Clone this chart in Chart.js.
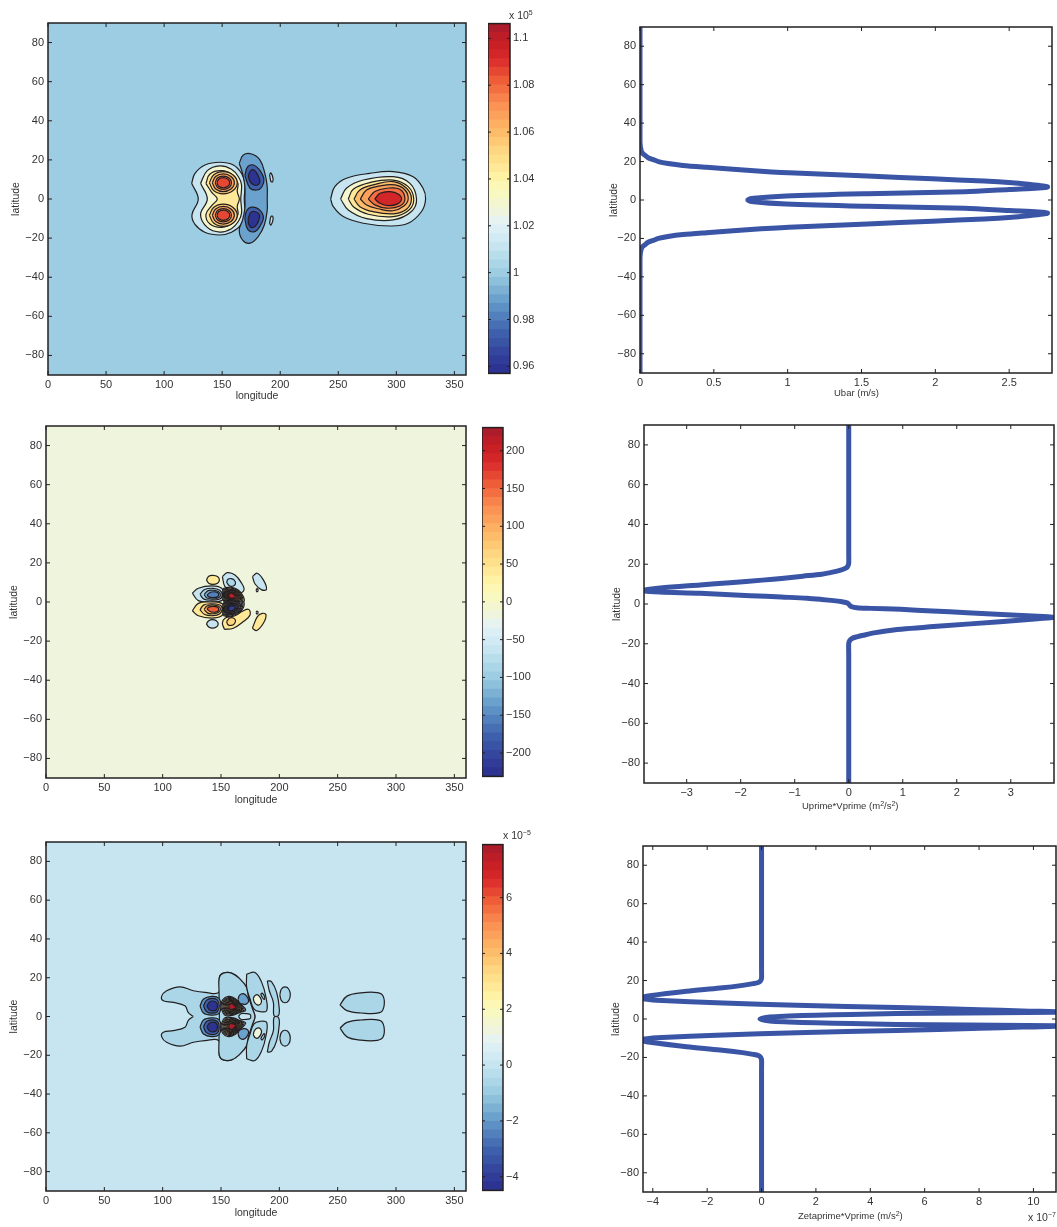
<!DOCTYPE html>
<html>
<head>
<meta charset="utf-8">
<script src="https://cdn.jsdelivr.net/npm/chart.js@4"></script>
<style>
  html, body { margin: 0; background: #fff; width: 1057px; height: 1227px; overflow: hidden; }
  canvas { position: absolute; }
  .mult, .xtitle { position: absolute; font: 10.5px "Liberation Sans", sans-serif; color: #333; white-space: nowrap; will-change: transform; }
  .xtitle { font-size: 9.5px; }
  .mult sup { font-size: 7px; vertical-align: 4px; line-height: 0; }
  .xtitle sup { font-size: 7px; vertical-align: 3px; line-height: 0; }
</style>
</head>
<body>
<div class="mult" style="left:509px;top:9px">x 10<sup>5</sup></div>
<div class="mult" style="left:503px;top:829px">x 10<sup>&minus;5</sup></div>
<div class="mult" style="left:1028px;top:1211px">x 10<sup>&minus;7</sup></div>
<div class="xtitle" style="left:834px;top:387px">Ubar (m/s)</div>
<div class="xtitle" style="left:802px;top:800px">Uprime*Vprime (m<sup>2</sup>/s<sup>2</sup>)</div>
<div class="xtitle" style="left:798px;top:1210px">Zetaprime*Vprime (m/s<sup>2</sup>)</div>
<script>
// contours are closed [lon, lat] outlines, painted in list order
const lonTicksStep = 50;
const latTicks = [-80, -60, -40, -20, 0, 20, 40, 60, 80];

// --- top map (pressure, x 10^5)
const map1Levels = [
  1.012, 1.028, 1.046, 1.056, 1.066, 1.074, 1.085, 1.056, 1.066, 1.074, 1.085,
  0.987, 0.972, 0.960, 0.972, 0.960, 1.012, 1.012,
  1.012, 1.028, 1.046, 1.058, 1.068, 1.080, 1.095
];
const map1Contours = [
  [[123.7,8],[126.6,13.1],[135.2,17.4],[148.1,18.8],[159.6,17.4],[166.7,13.1],[169.6,8],[169,0],[169.6,-8],[166.7,-13],[158,-17],[148,-18.4],[135,-17],[126.6,-13],[124,-8],[129.4,0]],
  [[131.4,8],[137.2,14.5],[148,16.9],[158,15.2],[164,11.4],[166.7,7.2],[166,0],[166.7,-7.2],[164,-11.4],[158,-15.2],[148,-16.9],[137.2,-14.5],[131.4,-8],[137.2,0]],
  [[136,8],[139.5,12.8],[149.5,14.5],[159,12.3],[163.6,8],[163,3.8],[164.8,0],[163,-3.8],[163.6,-8],[159,-12.3],[149.5,-14.5],[139.5,-12.8],[136,-8],[141,-3.4],[145.8,0],[141,3.4]],
  [[139,8.3],[142.6,12.3],[151,14],[159.4,12.3],[163,8.3],[159.4,4.3],[151,2.6],[142.6,4.3]],
  [[141.5,8.3],[144.4,11.5],[151,12.8],[157.6,11.5],[160.5,8.3],[157.6,5.1],[151,3.8],[144.4,5.1]],
  [[144,8.3],[146,10.7],[151,11.7],[156,10.7],[158,8.3],[156,5.9],[151,4.9],[146,5.9]],
  [[145.5,8.3],[147,10.1],[151,10.9],[155,10.1],[156.5,8.3],[155,6.5],[151,5.7],[147,6.5]],
  [[139,-8.3],[142.6,-4.3],[151,-2.6],[159.4,-4.3],[163,-8.3],[159.4,-12.3],[151,-14],[142.6,-12.3]],
  [[141.5,-8.3],[144.4,-5.1],[151,-3.8],[157.6,-5.1],[160.5,-8.3],[157.6,-11.5],[151,-12.8],[144.4,-11.5]],
  [[144,-8.3],[146,-5.9],[151,-4.9],[156,-5.9],[158,-8.3],[156,-10.7],[151,-11.7],[146,-10.7]],
  [[145.5,-8.3],[147,-6.5],[151,-5.7],[155,-6.5],[156.5,-8.3],[155,-10.1],[151,-10.9],[147,-10.1]],
  [[164.7,18.3],[168.2,22.5],[175.4,23],[182.5,20],[186.8,13.1],[188.8,6.3],[188.8,0],[188.8,-5.6],[186.3,-13.3],[181,-19.2],[174,-22.6],[167.6,-21],[164.7,-15.8],[167.6,-10.7],[169.6,-4.7],[169.6,0],[169.6,6.3],[167.6,13]],
  [[169.5,12],[172,16.5],[177,17.4],[182,15],[186,10],[184,6],[180,4.6],[174,5.5]],
  [[172.5,12],[174.5,14.5],[177.5,14.8],[180.5,12.5],[182.5,9],[180.5,7.2],[177,7.3],[174,9]],
  [[169.5,-10],[171,-6],[175,-4.2],[181,-5],[185.5,-9],[183,-13.5],[178,-16.7],[172,-15.5]],
  [[172.5,-10],[174.5,-7],[178,-6.4],[182,-8],[181.5,-11],[178.5,-14],[175,-14.5],[172.8,-12.8]],
  [[190.8,12.5],[192,13.3],[193.8,10.5],[193.4,8.8],[192,9]],
  [[190.8,-12.5],[192,-13.3],[193.8,-10.5],[193.4,-8.8],[192,-9]],
  [[243.4,0],[247,6.3],[257,10.6],[277.2,13.1],[297.3,14],[314.5,11.4],[323,5.5],[325.2,0],[321.7,-6.4],[310.2,-12.4],[294.5,-13.8],[271.5,-12.4],[254.3,-9],[245.7,-3.9]],
  [[252,0],[257,5.5],[271.5,9.7],[297.3,11.4],[311.7,8],[317.4,0],[313,-6.4],[297.3,-10.7],[274.4,-10],[258.6,-5.6]],
  [[258.6,0],[262.9,5],[277.2,8.4],[297.3,9.7],[310.2,6.3],[315,0],[311,-5.6],[297.3,-9],[275.8,-7.8],[263.5,-4.2]],
  [[263.5,0],[268.6,4.6],[280,7.2],[297.3,8.9],[308.8,5.5],[313,0],[308.8,-5.2],[297.3,-7.6],[280,-6.5],[268.6,-3.9]],
  [[269,0],[274.4,4.6],[285.9,6.7],[298.8,7.2],[307.4,4.6],[310.2,0],[306.5,-3.6],[297.3,-6],[284.4,-5],[274.4,-3.1]],
  [[275.8,0],[281.5,3.8],[291.6,5.5],[303,5],[307.4,0],[303,-3.6],[291.6,-4.7],[281.5,-3]],
  [[281.5,0],[285.9,2.9],[294.5,3.8],[301.6,2.6],[304.5,0],[301,-2.5],[293,-3.4],[285.9,-2.2]]
];

// --- middle map
const map2Levels = [
  40, -60, -90, 40, -60, 40, -60, 60,
  -60, -90, -120, -160,
  40, 65, 95, 150,
  30, 45, 60, 75, 90, 105, 120, 150, 215,
  -40, -55, -70, -85, -100, -115, -130, -160, -215,
  -60, -60
];
const map2Contours = [
  [[137.5,11.3],[139.5,13.2],[143,13.6],[147,13],[148.6,11.3],[147,9.6],[143,9],[139.5,9.6]],
  [[151.2,13],[155.4,15],[162,13.8],[167.7,9.6],[169.7,6.2],[164.9,4.5],[159.2,6.2],[153.4,7.9]],
  [[154.8,10],[156,11.6],[158.6,12],[161.4,11.2],[162.4,9.4],[160.6,8.2],[157.5,8.2]],
  [[153,-14],[160.6,-13.4],[169.2,-10],[174.9,-6.6],[173.4,-3.7],[164.9,-5.8],[153.4,-8.3],[151.2,-10.9]],
  [[177,13],[181,14.7],[186.3,11.3],[189,6.5],[184.9,6.2],[179.2,9.2]],
  [[176.9,-13.4],[181.2,-7.5],[185.4,-5.8],[188.6,-6.6],[186.3,-10.9],[180.6,-14.6]],
  [[137.5,-11.2],[139.5,-9.6],[142.6,-9],[146,-9.6],[147.6,-11.2],[146,-12.8],[142.6,-13.4],[139.5,-12.8]],
  [[154.8,-10],[157.5,-8.2],[160.6,-8.2],[162.4,-9.4],[161.4,-11.2],[158.6,-12],[156,-11.6]],
  [[125.4,4.5],[130.6,7],[142,8.2],[150.6,7],[152,3.6],[150.6,0.7],[140.6,0],[130.6,0.7]],
  [[132,4],[136,6.4],[143,7],[149,6],[151,3.6],[149,1.5],[141,0.9],[135,1.6]],
  [[135.5,3.8],[139,5.8],[143.5,6],[148,5.2],[149.5,3.6],[148,2.2],[143,1.5],[138,2]],
  [[138,3.6],[141,5],[145,5.2],[147.5,4.6],[148,3.6],[147,2.6],[143,2.2],[139.5,2.6]],
  [[125.4,-4.5],[130.6,-0.7],[140.6,0],[150.6,-0.7],[152,-3.6],[150.6,-7],[142,-8.2],[130.6,-7]],
  [[132,-4],[135,-1.6],[141,-0.9],[149,-1.5],[151,-3.6],[149,-6],[143,-7],[136,-6.4]],
  [[135.5,-3.8],[138,-2],[143,-1.5],[148,-2.2],[149.5,-3.6],[148,-5.2],[143.5,-6],[139,-5.8]],
  [[138,-3.6],[139.5,-2.6],[143,-2.2],[147,-2.6],[148,-3.6],[147.5,-4.6],[145,-5.2],[141,-5]],
  [[152,7],[159.2,7.5],[166.3,5.3],[169.7,0.2],[162,-0.65],[153.4,-0.3],[151.4,3.1]],
  [[152.7,6.6],[159.2,7.1],[165.6,5.1],[168.6,0.5],[161.7,-0.3],[154,0],[152.2,3.1]],
  [[153.4,6.2],[159.2,6.6],[164.8,4.9],[167.6,0.8],[161.4,0.1],[154.5,0.4],[152.9,3.1]],
  [[154,5.9],[159.1,6.3],[164.2,4.7],[166.6,1.1],[161.1,0.5],[155,0.7],[153.6,3.1]],
  [[154.7,5.6],[159.1,5.9],[163.5,4.5],[165.6,1.3],[160.9,0.8],[155.5,1],[154.3,3.1]],
  [[155.2,5.3],[159.1,5.5],[162.9,4.3],[164.8,1.6],[160.6,1.1],[156,1.3],[154.9,3.1]],
  [[155.8,4.9],[159.1,5.2],[162.4,4.2],[163.9,1.8],[160.4,1.4],[156.4,1.6],[155.5,3.2]],
  [[156.3,4.6],[159.1,4.8],[161.8,4],[163.1,2.1],[160.1,1.7],[156.9,1.9],[156.1,3.2]],
  [[156.9,4.3],[159.1,4.5],[161.2,3.8],[162.2,2.3],[159.9,2],[157.3,2.2],[156.7,3.2]],
  [[152,-7],[151.4,-3.1],[153.4,0.3],[162,0.65],[169.7,-0.2],[166.3,-5.3],[159.2,-7.5]],
  [[152.7,-6.6],[152.2,-3.1],[154,0],[161.7,0.3],[168.6,-0.5],[165.6,-5.1],[159.2,-7.1]],
  [[153.4,-6.2],[152.9,-3.1],[154.5,-0.4],[161.4,-0.1],[167.6,-0.8],[164.8,-4.9],[159.2,-6.6]],
  [[154,-5.9],[153.6,-3.1],[155,-0.7],[161.1,-0.5],[166.6,-1.1],[164.2,-4.7],[159.1,-6.3]],
  [[154.7,-5.6],[154.3,-3.1],[155.5,-1],[160.9,-0.8],[165.6,-1.3],[163.5,-4.5],[159.1,-5.9]],
  [[155.2,-5.3],[154.9,-3.1],[156,-1.3],[160.6,-1.1],[164.8,-1.6],[162.9,-4.3],[159.1,-5.5]],
  [[155.8,-4.9],[155.5,-3.2],[156.4,-1.6],[160.4,-1.4],[163.9,-1.8],[162.4,-4.2],[159.1,-5.2]],
  [[156.3,-4.6],[156.1,-3.2],[156.9,-1.9],[160.1,-1.7],[163.1,-2.1],[161.8,-4],[159.1,-4.8]],
  [[156.9,-4.3],[156.7,-3.2],[157.3,-2.2],[159.9,-2],[162.2,-2.3],[161.2,-3.8],[159.1,-4.5]],
  [[180,6],[180.9,6.8],[181.8,6],[180.9,5.2]],
  [[180,-5.4],[180.9,-4.6],[181.8,-5.4],[180.9,-6.2]]
];

// --- bottom map (x 10^-5)
const map3Levels = [
  -0.6, -0.6, -0.6, -0.6, -0.6, -0.6, -0.6, -0.6, -0.6, -0.6,
  -2.2, -3.1, -4.2, -2.2, -3.1, -4.2,
  -2, -2, 1.2, 1.2, -0.6, -0.6, 0,
  1, 1.5, 2, 2.5, 3, 3.5, 4, 5, 7.6,
  1, 1.5, 2, 2.5, 3, 3.5, 4, 5, 7.6
];
const map3Contours = [
  [[126.3,0],[122,2],[119.1,5.5],[109.1,7.3],[100.6,8.1],[99.1,10.4],[103.4,13.3],[114.9,15.3],[126.3,13.3],[136.3,12.4],[148,12.4],[148.6,20.2],[152,22.4],[159.1,22.4],[166.3,19.3],[172,15],[173.4,10.7],[177.1,3.8],[179.1,0],[177.1,-3.8],[173.4,-10.7],[172,-15],[166.3,-19.3],[159.1,-22.4],[152,-22.4],[148.6,-20.2],[148,-12.4],[136.3,-12.4],[126.3,-13.3],[114.9,-15.3],[103.4,-13.3],[99.1,-10.4],[100.6,-8.1],[109.1,-7.3],[119.1,-5.5],[122,-2]],
  [[148.3,12.4],[148.6,20.2],[152,22.4],[159.1,22.4],[166.3,19.3],[172,15],[173.4,10.7],[177.1,3.8],[179.1,0],[177.1,-3.8],[173.4,-10.7],[172,-15],[166.3,-19.3],[159.1,-22.4],[152,-22.4],[148.6,-20.2],[148.3,-12.4],[148.6,0]],
  [[172,21.9],[179.1,22.7],[184.9,17.6],[188.6,9.8],[189.1,3],[183.4,2.5],[178.3,3.8],[174.9,9],[172,15]],
  [[172,-21.9],[172,-15],[174.9,-9],[178.3,-3.8],[183.4,-2.5],[189.1,-3],[188.6,-9.8],[184.9,-17.6],[179.1,-22.7]],
  [[189.7,18.4],[193.4,17.9],[197.7,12.4],[200,3.8],[199.1,0.4],[195.4,0.5],[194.9,7.3],[191.4,13.3]],
  [[189.7,-18.4],[191.4,-13.3],[194.9,-7.3],[195.4,-0.5],[199.1,-0.4],[200,-3.8],[197.7,-12.4],[193.4,-17.9]],
  [[200.4,11.2],[201.8,14.2],[204.9,15.3],[208,14.2],[209.4,11.2],[208,8.2],[204.9,7.1],[201.8,8.2]],
  [[200.4,-11.2],[201.8,-8.2],[204.9,-7.1],[208,-8.2],[209.4,-11.2],[208,-14.2],[204.9,-15.3],[201.8,-14.2]],
  [[252,6],[258,10.5],[270,12.2],[284,12.3],[289,10.5],[289.6,5],[286,2],[270,1.8],[258,3]],
  [[252,-6],[258,-3],[270,-1.8],[286,-2],[289.6,-5],[289,-10.5],[284,-12.3],[270,-12.2],[258,-10.5]],
  [[132,5.4],[135,9],[142,10.4],[148,9.5],[150,5.4],[148,1.5],[142,0.7],[135,1.8]],
  [[135,5.4],[137.5,8.3],[142.5,9.3],[147,8.4],[148.5,5.4],[147,2.6],[142.5,1.7],[137.5,2.6]],
  [[138,5.4],[140,7.4],[143,8],[146,7.3],[147,5.4],[146,3.5],[143,2.9],[140,3.4]],
  [[132,-5.4],[135,-1.8],[142,-0.7],[148,-1.5],[150,-5.4],[148,-9.5],[142,-10.4],[135,-9]],
  [[135,-5.4],[137.5,-2.6],[142.5,-1.7],[147,-2.6],[148.5,-5.4],[147,-8.4],[142.5,-9.3],[137.5,-8.3]],
  [[138,-5.4],[140,-3.4],[143,-2.9],[146,-3.5],[147,-5.4],[146,-7.3],[143,-8],[140,-7.4]],
  [[164.6,9],[166,11],[169,11.8],[172,10.5],[173.7,8],[171.5,6.4],[168,6.5],[165.5,7.2]],
  [[164.6,-9],[165.5,-7.2],[168,-6.5],[171.5,-6.4],[173.7,-8],[172,-10.5],[169,-11.8],[166,-11]],
  [[177.7,9.5],[179.5,11],[182,11],[184.6,8.5],[184,6.5],[181,6],[178.5,7.5]],
  [[177.7,-9.5],[178.5,-7.5],[181,-6],[184,-6.5],[184.6,-8.5],[182,-11],[179.5,-11]],
  [[184,11.6],[185.5,12],[187.5,10],[187,8.8],[185.5,9.8]],
  [[184,-11.6],[185.5,-9.8],[187,-8.8],[187.5,-10],[185.5,-12]],
  [[165,0],[167,1.4],[171,1.5],[175,1],[175.5,0],[175,-1],[171,-1.5],[167,-1.4]],
  [[149.7,4.7],[151.4,8.6],[156.3,10.4],[162,9.3],[166.9,6.4],[171.1,3.3],[166.3,2.1],[160.6,0.7],[153.4,0.7]],
  [[150.5,5],[152.3,8.2],[156.8,9.9],[162.2,8.8],[166.7,6.1],[169.9,3.4],[165.8,2.3],[160.4,1.1],[154.1,1.1]],
  [[151.5,5],[153.1,7.9],[157.1,9.3],[161.9,8.4],[165.9,6],[168.7,3.6],[165.1,2.6],[160.3,1.6],[154.7,1.6]],
  [[152.4,5],[153.8,7.6],[157.4,8.8],[161.6,8],[165.2,5.9],[167.7,3.7],[164.5,2.9],[160.2,1.9],[155.2,1.9]],
  [[153.3,5],[154.5,7.2],[157.6,8.3],[161.4,7.6],[164.5,5.7],[166.6,3.9],[163.8,3.1],[160.1,2.3],[155.8,2.3]],
  [[154.1,5],[155.2,6.9],[157.9,7.9],[161.1,7.3],[163.8,5.6],[165.7,4],[163.3,3.4],[160,2.7],[156.3,2.7]],
  [[154.9,5],[155.8,6.7],[158.1,7.5],[160.9,6.9],[163.2,5.6],[164.8,4.2],[162.7,3.6],[160,3],[156.7,3]],
  [[155.7,5],[156.5,6.4],[158.4,7.1],[160.6,6.6],[162.5,5.5],[163.9,4.3],[162.2,3.9],[159.9,3.4],[157.2,3.4]],
  [[156.5,5],[157.1,6.1],[158.6,6.6],[160.4,6.3],[161.9,5.4],[163,4.5],[161.6,4.1],[159.8,3.7],[157.7,3.7]],
  [[149.7,-4.7],[153.4,-0.7],[160.6,-0.7],[166.3,-2.1],[171.1,-3.3],[166.9,-6.4],[162,-9.3],[156.3,-10.4],[151.4,-8.6]],
  [[150.5,-5],[154.1,-1.1],[160.4,-1.1],[165.8,-2.3],[169.9,-3.4],[166.7,-6.1],[162.2,-8.8],[156.8,-9.9],[152.3,-8.2]],
  [[151.5,-5],[154.7,-1.6],[160.3,-1.6],[165.1,-2.6],[168.7,-3.6],[165.9,-6],[161.9,-8.4],[157.1,-9.3],[153.1,-7.9]],
  [[152.4,-5],[155.2,-1.9],[160.2,-1.9],[164.5,-2.9],[167.7,-3.7],[165.2,-5.9],[161.6,-8],[157.4,-8.8],[153.8,-7.6]],
  [[153.3,-5],[155.8,-2.3],[160.1,-2.3],[163.8,-3.1],[166.6,-3.9],[164.5,-5.7],[161.4,-7.6],[157.6,-8.3],[154.5,-7.2]],
  [[154.1,-5],[156.3,-2.7],[160,-2.7],[163.3,-3.4],[165.7,-4],[163.8,-5.6],[161.1,-7.3],[157.9,-7.9],[155.2,-6.9]],
  [[154.9,-5],[156.7,-3],[160,-3],[162.7,-3.6],[164.8,-4.2],[163.2,-5.6],[160.9,-6.9],[158.1,-7.5],[155.8,-6.7]],
  [[155.7,-5],[157.2,-3.4],[159.9,-3.4],[162.2,-3.9],[163.9,-4.3],[162.5,-5.5],[160.6,-6.6],[158.4,-7.1],[156.5,-6.4]],
  [[156.5,-5],[157.7,-3.7],[159.8,-3.7],[161.6,-4.1],[163,-4.5],[161.9,-5.4],[160.4,-6.3],[158.6,-6.6],[157.1,-6.1]]
];

// --- colorbar ranges and background levels
const map1Range = [0.957, 1.1063];
const map2Range = [-231, 230.6];
const map3Range = [-4.49, 7.9];
const map1Background = 1.0;
const map2Background = -18;
const map3Background = 0;

// --- profiles: latitude and value
const ubarLat = [90,60,40,30,25,23.5,22,21,20,19,18,17,16,15,14,12.5,11,9.9,9,8.1,7.3,6.8,6.2,5.5,4.3,3.3,2.1,0.9,0,-0.9,-2.1,-3.3,-4.3,-5.5,-6.2,-6.8,-7.3,-8.1,-9,-9.9,-11,-12.5,-14,-15,-16,-17,-18,-19,-20,-21,-22,-23.5,-25,-30,-40,-60,-90];
const ubarVal = [0,0,0,0,0.01,0.03,0.055,0.09,0.124,0.19,0.29,0.45,0.63,0.82,1.05,1.54,1.98,2.33,2.52,2.64,2.73,2.76,2.7,2.5,2.2,1.54,0.99,0.77,0.73,0.77,0.99,1.54,2.2,2.5,2.7,2.76,2.73,2.64,2.52,2.33,1.98,1.54,1.05,0.82,0.63,0.45,0.29,0.19,0.124,0.09,0.055,0.03,0.01,0,0,0,0];

const uvLat = [90,60,40,25,20.5,19.5,18.5,18,17,16,15,14,13,12,10.7,9.6,8.1,7.3,6.6,6,5.4,4.2,3.5,2.9,2.3,1.7,1.1,0.6,-0.1,-0.7,-1.3,-1.9,-2.2,-2.7,-3.5,-4.4,-5.6,-6.2,-6.7,-7.4,-8.9,-11.1,-13.1,-14.4,-15.7,-16.5,-17.3,-18.3,-19.8,-25,-40,-60,-90];
const uvVal = [0,0,0,0,0,-0.01,-0.03,-0.06,-0.15,-0.3,-0.5,-0.85,-1.2,-1.6,-2.2,-2.75,-3.49,-3.72,-3.8,-3.5,-2.75,-1.82,-1.25,-0.77,-0.5,-0.28,-0.12,-0.03,0,0.02,0.05,0.15,0.4,0.96,1.55,2.19,3.11,3.5,3.8,3.5,2.8,1.7,0.83,0.5,0.27,0.15,0.06,0.02,0,0,0,0,0];

const zvLat = [90,60,40,26,21.3,20,19,18.4,17.5,16.1,14.4,12.1,11.2,10.7,10.2,9.7,8.3,7.1,6,4.8,4.2,3.6,2.8,2.4,2,1.5,1,0,-1,-1.5,-2,-2.4,-2.8,-3.6,-4.2,-4.8,-6,-7.1,-8.3,-9.7,-10.2,-10.7,-11.2,-12.1,-14.4,-16.1,-17.5,-18.4,-19,-20,-21.3,-26,-40,-60,-90];
const zvVal = [0,0,0,0,0,-0.03,-0.12,-0.31,-0.7,-1.53,-2.76,-4.1,-4.4,-4.4,-4.2,-3.86,-1.41,1.29,4.97,8.03,9.6,11.2,4.96,3.3,2,1,0.3,-0.06,0.3,1,2,3.3,4.96,11.2,9.6,8.03,4.97,1.29,-1.41,-3.86,-4.2,-4.4,-4.4,-4.1,-2.76,-1.53,-0.7,-0.31,-0.12,-0.03,0,0,0,0,0];

// --- look
const FONT = "'Liberation Sans', sans-serif";
const INK = "#231f20";
const TEXT = "#333333";
const LINE_BLUE = "#3a55a5";
const BANDS = 40;
const anchors = [
  [0, "#2b2f8e"], [0.05, "#33409b"], [0.12, "#3f63ad"], [0.2, "#639ac9"], [0.28, "#98cbe0"],
  [0.36, "#c5e5f1"], [0.43, "#e3f2f6"], [0.4625, "#eff5dc"], [0.53, "#fbf9b8"], [0.57, "#fff0a0"],
  [0.63, "#fed983"], [0.7, "#fdb665"], [0.77, "#fb8f52"], [0.84, "#ee5a37"], [0.9, "#d8282a"],
  [0.95, "#c41e25"], [1, "#a51c2c"]
];

function rgb(hex) {
  return [1, 3, 5].map(i => parseInt(hex.slice(i, i + 2), 16));
}

function bandColor(band) {
  const t = (band + 0.5) / BANDS;
  let k = 0;
  while (k < anchors.length - 2 && anchors[k + 1][0] < t) k++;
  const a = anchors[k], b = anchors[k + 1];
  const f = (t - a[0]) / (b[0] - a[0]);
  const ca = rgb(a[1]), cb = rgb(b[1]);
  return "rgb(" + ca.map((c, i) => Math.round(c + (cb[i] - c) * f)).join(",") + ")";
}

function levelColor(value, range) {
  const t = (value - range[0]) / (range[1] - range[0]);
  return bandColor(Math.max(0, Math.min(BANDS - 1, Math.floor(t * BANDS))));
}

function minusSign(text) {
  return String(text).replace("-", "\u2212");
}

// frame and MATLAB style inward ticks
const framePlugin = {
  id: "frame",
  afterDatasetsDraw(chart, args, opts) {
    const { ctx, chartArea: a, scales } = chart;
    const len = opts.tick;
    ctx.save();
    ctx.strokeStyle = INK;
    ctx.lineWidth = 1;
    ctx.beginPath();
    if (scales.x.options.display) {
      scales.x.ticks.forEach(t => {
        const p = scales.x.getPixelForValue(t.value);
        ctx.moveTo(p, a.bottom); ctx.lineTo(p, a.bottom - len);
        ctx.moveTo(p, a.top); ctx.lineTo(p, a.top + len);
      });
    }
    scales.y.ticks.forEach(t => {
      const p = scales.y.getPixelForValue(t.value);
      ctx.moveTo(a.left, p); ctx.lineTo(a.left + len, p);
      ctx.moveTo(a.right, p); ctx.lineTo(a.right - len, p);
    });
    ctx.stroke();
    ctx.lineWidth = 1.5;
    ctx.strokeRect(a.left, a.top, a.right - a.left, a.bottom - a.top);
    ctx.restore();
  }
};

const backgroundPlugin = {
  id: "plotBackground",
  beforeDatasetsDraw(chart, args, opts) {
    if (!opts.color) return;
    const { ctx, chartArea: a } = chart;
    ctx.save();
    ctx.fillStyle = opts.color;
    ctx.fillRect(a.left, a.top, a.right - a.left, a.bottom - a.top);
    ctx.restore();
  }
};

function addCanvas(left, top, width, height) {
  const c = document.createElement("canvas");
  c.width = width;
  c.height = height;
  c.style.left = left + "px";
  c.style.top = top + "px";
  c.style.width = width + "px";
  c.style.height = height + "px";
  document.body.appendChild(c);
  return c;
}

// box = plot rectangle, titleX / titleY = centres of the axis titles
function xyChart(box, titleX, titleY, xTitle, xScale, datasets, bgColor) {
  const topPad = 20;
  const left = titleX - 6, top = box.y0 - topPad;
  const right = Math.min(1057, box.x1 + 8);
  const bottom = titleY + 7;
  const canvas = addCanvas(left, top, right - left, bottom - top);
  const tickStyle = { color: TEXT, font: { family: FONT, size: 11 }, autoSkip: false, maxRotation: 0, includeBounds: false };
  new Chart(canvas, {
    type: "scatter",
    data: { datasets: datasets },
    plugins: [backgroundPlugin, framePlugin],
    options: {
      responsive: false,
      animation: false,
      devicePixelRatio: 1,
      events: [],
      layout: { autoPadding: false, padding: { top: topPad, right: right - box.x1, left: 0, bottom: 0 } },
      plugins: { legend: { display: false }, tooltip: { enabled: false }, plotBackground: { color: bgColor }, frame: { tick: 4 } },
      scales: {
        x: {
          type: "linear", min: xScale.min, max: xScale.max,
          grid: { display: false, drawTicks: false }, border: { display: false },
          ticks: Object.assign({}, tickStyle, { stepSize: xScale.step, padding: 3, callback: v => minusSign(+v.toFixed(2)) }),
          title: { display: !!xTitle, text: xTitle, color: TEXT, font: { family: FONT, size: 10.5 }, padding: 0 },
          afterFit: s => { s.height = bottom - box.y1; }
        },
        y: {
          type: "linear", min: -90, max: 90,
          grid: { display: false, drawTicks: false }, border: { display: false },
          ticks: Object.assign({}, tickStyle, { padding: 4, callback: v => minusSign(v) }),
          afterBuildTicks: s => { s.ticks = latTicks.map(v => ({ value: v })); },
          title: { display: true, text: "latitude", color: TEXT, font: { family: FONT, size: 10.5 }, padding: 0 },
          afterFit: s => { s.width = box.x0 - left; }
        }
      }
    }
  });
}

function mapChart(box, titleX, titleY, contours, levels, range, background) {
  const datasets = contours.map((pts, i) => ({
    data: pts.concat([pts[0]]).map(p => ({ x: p[0], y: p[1] })),
    showLine: true,
    fill: "shape",
    backgroundColor: levelColor(levels[i], range),
    borderColor: INK,
    borderWidth: 1.2,
    tension: 0.4,
    pointRadius: 0,
    clip: 0
  })).reverse(); // Chart.js paints the first dataset last
  xyChart(box, titleX, titleY, "longitude", { min: 0, max: 360, step: lonTicksStep }, datasets, levelColor(background, range));
}

function profileChart(box, titleX, titleY, xScale, lat, val) {
  const datasets = [{
    data: lat.map((y, i) => ({ x: val[i], y: y })),
    showLine: true,
    borderColor: LINE_BLUE,
    borderWidth: 5,
    borderJoinStyle: "round",
    tension: 0.3,
    pointRadius: 0,
    clip: 0
  }];
  xyChart(box, titleX, titleY, "", xScale, datasets, null);
}

function colorbar(box, range, step, format) {
  const pad = 8, gutter = 46;
  const canvas = addCanvas(box.x0, box.y0 - pad, box.x1 - box.x0 + gutter, box.y1 - box.y0 + pad * 2);
  const datasets = [];
  for (let i = 0; i < BANDS; i++) {
    // each band runs from the bottom so neighbours leave no seam
    datasets.push({
      data: [[range[0], range[0] + (range[1] - range[0]) * (i + 1) / BANDS]],
      backgroundColor: bandColor(i),
      borderWidth: 0,
      barPercentage: 1,
      categoryPercentage: 1
    });
  }
  new Chart(canvas, {
    type: "bar",
    data: { labels: [""], datasets: datasets },
    plugins: [framePlugin],
    options: {
      responsive: false,
      animation: false,
      devicePixelRatio: 1,
      events: [],
      layout: { autoPadding: false, padding: { top: pad, bottom: pad, left: 0, right: 0 } },
      plugins: { legend: { display: false }, tooltip: { enabled: false }, frame: { tick: 3 } },
      scales: {
        x: { display: false, stacked: true },
        y: {
          type: "linear", position: "right", min: range[0], max: range[1],
          grid: { display: false, drawTicks: false }, border: { display: false },
          ticks: { stepSize: step, color: TEXT, font: { family: FONT, size: 11 }, padding: 3, autoSkip: false, includeBounds: false, callback: format },
          afterFit: s => { s.width = gutter; }
        }
      }
    }
  });
}

mapChart({ x0: 48, y0: 23, x1: 466, y1: 375 }, 16, 395, map1Contours, map1Levels, map1Range, map1Background);
mapChart({ x0: 46, y0: 426, x1: 466, y1: 778 }, 14, 799, map2Contours, map2Levels, map2Range, map2Background);
mapChart({ x0: 46, y0: 842, x1: 466, y1: 1191 }, 14, 1212, map3Contours, map3Levels, map3Range, map3Background);

colorbar({ x0: 488, y0: 22, x1: 510, y1: 375 }, map1Range, 0.02, v => String(+v.toFixed(2)));
colorbar({ x0: 482, y0: 426, x1: 503, y1: 778 }, map2Range, 50, v => minusSign(v));
colorbar({ x0: 482, y0: 843, x1: 503, y1: 1192 }, map3Range, 2, v => minusSign(v));

profileChart({ x0: 640, y0: 27, x1: 1052, y1: 373 }, 614, 393, { min: 0, max: 2.79, step: 0.5 }, ubarLat, ubarVal);
profileChart({ x0: 644, y0: 425, x1: 1054, y1: 783 }, 617, 806, { min: -3.79, max: 3.8, step: 1 }, uvLat, uvVal);
profileChart({ x0: 643, y0: 846, x1: 1056, y1: 1192 }, 616, 1216, { min: -4.36, max: 10.83, step: 2 }, zvLat, zvVal);
</script>
</body>
</html>
